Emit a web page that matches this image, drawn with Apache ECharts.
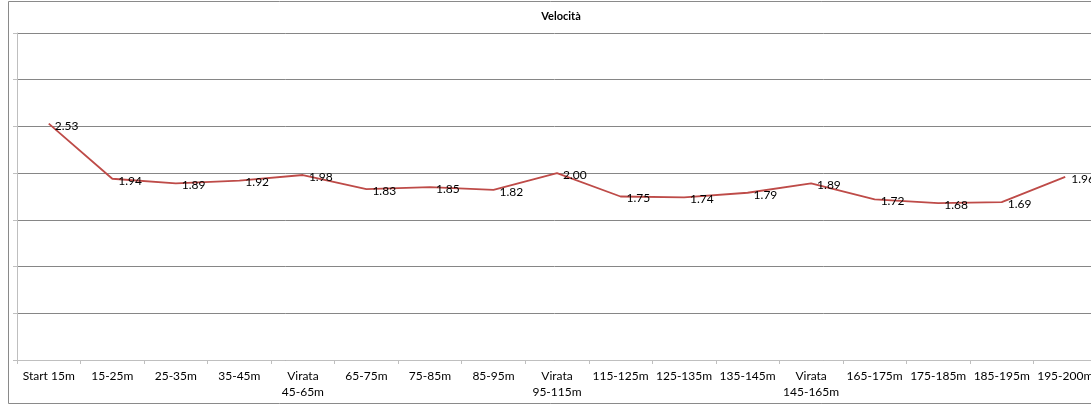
<!DOCTYPE html>
<html>
<head>
<meta charset="utf-8">
<script src="https://cdn.jsdelivr.net/npm/echarts@6/dist/echarts.min.js"></script>
<style>
html,body{margin:0;padding:0;background:#fff;}
#chart{width:1091px;height:406px;}
</style>
</head>
<body>
<div id="chart"></div>
<script>
var categories = ["Start 15m","15-25m","25-35m","35-45m","Virata\n45-65m","65-75m","75-85m","85-95m","Virata\n95-115m","115-125m","125-135m","135-145m","Virata\n145-165m","165-175m","175-185m","185-195m","195-200m"];
var velocita = [2.53,1.94,1.89,1.92,1.98,1.83,1.85,1.82,2.00,1.75,1.74,1.79,1.89,1.72,1.68,1.69,1.96];
var titleText = "Velocità";

var chart = echarts.init(document.getElementById('chart'), null, {renderer:'canvas'});
chart.setOption({
  animation:false,
  backgroundColor:'#ffffff',
  textStyle:{fontFamily:'Lato, "Liberation Sans", sans-serif'},
  title:{
    text:titleText, left:556, top:6, textAlign:'center',
    textStyle:{fontSize:11, fontWeight:'bold', color:'#000', fontFamily:'Lato, "Liberation Sans", sans-serif'}
  },
  graphic:[{
    type:'rect', silent:true, z:-1,
    shape:{x:8.5, y:1.5, width:1095, height:402},
    style:{fill:'none', stroke:'#8a8a8a', lineWidth:1}
  }],
  grid:{left:17, top:33, width:1080, bottom:46, containLabel:false, outerBoundsMode:'none'},
  xAxis:{
    type:'category', data:categories, boundaryGap:true,
    axisLine:{lineStyle:{color:'#bfbfbf', width:1}},
    axisTick:{show:true, alignWithLabel:false, length:4, lineStyle:{color:'#bfbfbf'}},
    axisLabel:{interval:0, color:'#000', fontSize:12, lineHeight:16, margin:8, hideOverlap:false, fontFamily:'Lato, "Liberation Sans", sans-serif'},
    splitLine:{show:false}
  },
  yAxis:{
    type:'value', min:0, max:3.5, interval:0.5,
    axisLine:{show:true, lineStyle:{color:'#bfbfbf', width:1}},
    axisTick:{show:true, length:4, lineStyle:{color:'#bfbfbf'}},
    axisLabel:{show:false},
    splitLine:{show:true, lineStyle:{color:'#868686', width:1}}
  },
  series:[{
    type:'line', data:velocita, symbol:'circle', symbolSize:2, showSymbol:true, smooth:false,
    lineStyle:{color:'#be4b48', width:1.8},
    itemStyle:{color:'rgba(190,75,72,0)', borderWidth:0},
    label:{show:true, position:'right', distance:5, offset:[0,2], color:'#000000', opacity:1, fontSize:12,
      fontFamily:'Lato, "Liberation Sans", sans-serif',
      formatter:function(p){return p.value.toFixed(2);}}
  }]
});
</script>
</body>
</html>
